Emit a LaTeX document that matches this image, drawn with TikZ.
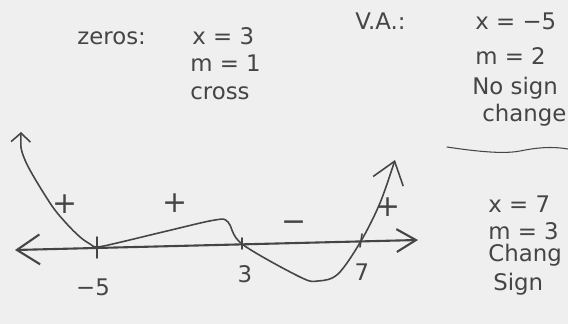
\documentclass[tikz,border=0pt]{standalone}
\usepackage{fontspec}
\setmainfont{DejaVu Sans}
\usetikzlibrary{arrows.meta,calc}
\definecolor{paper}{HTML}{EFEFEF}
\definecolor{pencil}{HTML}{454545}

\begin{document}
\begin{tikzpicture}[x=0.02cm,y=-0.02cm,
  pencil/.style={draw=pencil,line width=0.9pt,line cap=round,line join=round},
  note/.style={anchor=base west,text=pencil,inner sep=0pt,font=\fontsize{13}{15}\selectfont},
  sgn/.style={text=pencil,inner sep=0pt,font=\fontsize{17}{19}\selectfont}]
  % Paper
  \fill[paper] (0,0) rectangle (568,324);
  \useasboundingbox (0,0) rectangle (568,324);
  % Number line
  \coordinate (axL) at (15,250);
  \coordinate (axR) at (418,240);
  \draw[pencil,line width=1.2pt,{Straight Barb[length=13pt,width=17pt]}-{Straight Barb[length=11pt,width=13pt]}] (axL) -- (axR);
  % Zeros and asymptote on the line
  \coordinate (m5) at (97,247);
  \coordinate (p3) at (242,244);
  \coordinate (p7) at (361,241);
  \draw[pencil] ($(m5)+(0,-10)$) -- ($(m5)+(0,11)$);
  \draw[pencil] ($(p3)+(0,-6)$) -- ($(p3)+(0,5)$);
  \draw[pencil] ($(p7)+(1,-7)$) -- ($(p7)+(-1,6)$);
  \node[note,anchor=base] (lm5) at (93,296) {−5};
  \node[note,anchor=base] (lp3) at (245,282) {3};
  \node[note,anchor=base] (lp7) at (362,280) {7};
  % Graph
  \coordinate (tl) at (21,132);
  \coordinate (tr) at (395,160);
  \draw[pencil,{Straight Barb[length=5pt,width=11pt]}-{Straight Barb[length=12pt,width=18pt]}]
    plot[smooth,tension=0.55] coordinates {(tl) (25,160) (50,203) (66,223) (80,237) (90,244) (m5)
      (117,243) (167,231) (215,220) (228,222) (p3) (300,277) (318,281) (338,274)
      (p7) (380,203) (tr)};
  % Signs
  \node[sgn] (s1) at (65,204) {+};
  \node[sgn] (s2) at (175,203) {+};
  \node[sgn] (s3) at (294,226) {−};
  \node[sgn] (s4) at (388,207) {+};
  % Zeros
  \node[note] (zlab) at (77,45) {zeros:};
  \node[note] (zx) at (192,45) {x = 3};
  \node[note] (zm) at (190,72) {m = 1};
  \node[note] (zc) at (190,100) {cross};
  % Vertical asymptote
  \node[note] (vlab) at (355,30) {V.A.:};
  \node[note] (vx) at (475,30) {x = −5};
  \node[note] (vm) at (475,65) {m = 2};
  \node[note] (vs) at (472,95) {No sign};
  \node[note] (vc) at (482,122) {change};
  \coordinate (w1) at (447,147);
  \coordinate (w2) at (568,149);
  \draw[pencil,line width=0.6pt] (w1) .. controls (480,152) and (505,154) .. (520,151)
    .. controls (535,148) and (550,146) .. (w2);
  % Zero at 7
  \node[note] (sx) at (488,213) {x = 7};
  \node[note] (sm) at (488,240) {m = 3};
  \node[note] (sc) at (488,262) {Chang};
  \node[note] (ss) at (493,291) {Sign};
\end{tikzpicture}
\end{document}
